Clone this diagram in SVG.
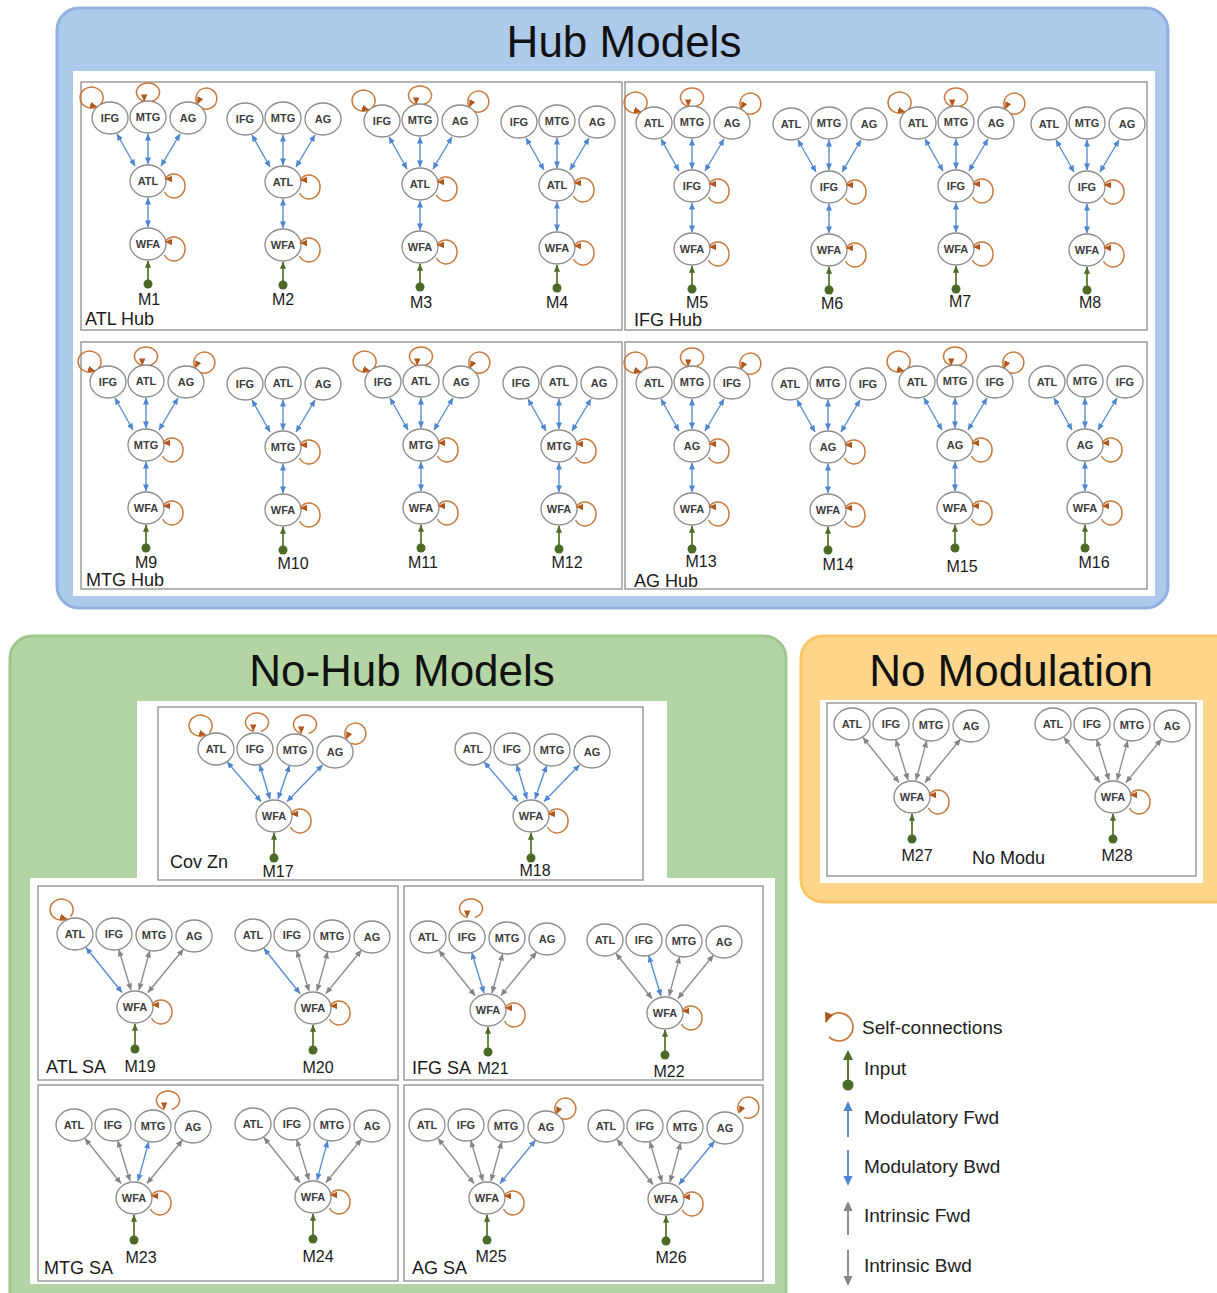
<svg xmlns="http://www.w3.org/2000/svg" xmlns:xlink="http://www.w3.org/1999/xlink" width="1217" height="1293" viewBox="0 0 1217 1293">
<defs>
<style>
.n{fill:#fff;stroke:#8c8c8c;stroke-width:1.3}
.t{font-family:"Liberation Sans",Arial,sans-serif;font-size:11px;font-weight:bold;fill:#3d3d3d;text-anchor:middle}
.b{stroke:#5b8fd2;stroke-width:1.4;marker-start:url(#ab);marker-end:url(#ab)}
.g{stroke:#8f8f8f;stroke-width:1.4;marker-start:url(#ag);marker-end:url(#ag)}
.in{stroke:#5a7a33;stroke-width:1.8;marker-end:url(#ai)}
.dot{fill:#4b6a27}
.lp{fill:none;stroke:#c97a3e;stroke-width:1.5}
.pn{fill:#fff;stroke:#9c9c9c;stroke-width:1.5}
.lb{font-family:"Liberation Sans",Arial,sans-serif;font-size:18px;fill:#1b1b1b}
.ml{font-family:"Liberation Sans",Arial,sans-serif;font-size:16px;fill:#1b1b1b;text-anchor:middle}
.ti{font-family:"Liberation Sans",Arial,sans-serif;font-size:44px;fill:#111;text-anchor:middle}
.lg{font-family:"Liberation Sans",Arial,sans-serif;font-size:19px;fill:#222}
</style>
<marker id="ab" viewBox="0 0 8 7" refX="7.6" refY="3.5" markerWidth="7" markerHeight="6" orient="auto-start-reverse" markerUnits="userSpaceOnUse"><path d="M0,0L8,3.5L0,7z" fill="#4f86cf"/></marker>
<marker id="ag" viewBox="0 0 8 7" refX="7.6" refY="3.5" markerWidth="7" markerHeight="6" orient="auto-start-reverse" markerUnits="userSpaceOnUse"><path d="M0,0L8,3.5L0,7z" fill="#858585"/></marker>
<marker id="ai" viewBox="0 0 8 7" refX="7.6" refY="3.5" markerWidth="7" markerHeight="7" orient="auto" markerUnits="userSpaceOnUse"><path d="M0,0L8,3.5L0,7z" fill="#4e6b2a"/></marker>
<marker id="aoL" viewBox="0 0 8 7" refX="7.6" refY="3.5" markerWidth="7.5" markerHeight="6.5" orient="180" markerUnits="userSpaceOnUse"><path d="M0,0L8,3.5L0,7z" fill="#b2561b"/></marker>
<marker id="aoD" viewBox="0 0 8 7" refX="7.6" refY="3.5" markerWidth="7.5" markerHeight="6.5" orient="90" markerUnits="userSpaceOnUse"><path d="M0,0L8,3.5L0,7z" fill="#b2561b"/></marker>
<marker id="aoR" viewBox="0 0 8 7" refX="7.6" refY="3.5" markerWidth="7.5" markerHeight="6.5" orient="15" markerUnits="userSpaceOnUse"><path d="M0,0L8,3.5L0,7z" fill="#b2561b"/></marker>
<marker id="aoDL" viewBox="0 0 8 7" refX="7.6" refY="3.5" markerWidth="7.5" markerHeight="6.5" orient="115" markerUnits="userSpaceOnUse"><path d="M0,0L8,3.5L0,7z" fill="#b2561b"/></marker>
<marker id="aoB" viewBox="0 0 8 7" refX="7.6" refY="3.5" markerWidth="10" markerHeight="9" orient="auto" markerUnits="userSpaceOnUse"><path d="M0,0L8,3.5L0,7z" fill="#b2561b"/></marker>
<path id="lR" class="lp" d="M16.5,11A11,12 0 1,0 17.1,-2" marker-end="url(#aoL)"/>
<path id="lTL" class="lp" d="M-9.6,-13.6A11.5,10.5 0 1,0 -13,-11.1" marker-end="url(#aoR)"/>
<path id="lT" class="lp" d="M3.76,-15.54A11.5,9.5 0 1,0 -3.76,-15.54" marker-end="url(#aoD)"/>
<path id="lTR" class="lp" d="M14.25,-9.73A10.5,10.5 0 1,0 9.34,-14" marker-end="url(#aoDL)"/>
<g id="hc">
<line class="b" x1="-31" y1="-47" x2="-13" y2="-15"/>
<line class="b" x1="0" y1="-47" x2="0" y2="-17"/>
<line class="b" x1="32" y1="-47" x2="13" y2="-15"/>
<line class="b" x1="0" y1="17" x2="0" y2="46"/>
<line class="in" x1="0" y1="99" x2="0" y2="80"/>
<circle class="dot" cy="103" r="4.5"/>
<use href="#lR"/>
<use href="#lR" y="63"/>
</g>
<g id="ht">
<use href="#lTL" x="-38" y="-63"/>
<use href="#lT" y="-64"/>
<use href="#lTR" x="40" y="-63"/>
</g>
<g id="inp">
<line class="in" x1="0" y1="38" x2="0" y2="17"/>
<circle class="dot" cy="42" r="4.5"/>
<use href="#lR"/>
</g>
</defs>

<g id="panels">
<rect x="57" y="8" width="1111" height="600" rx="22" fill="#aecaea" stroke="#8fb2e0" stroke-width="3"/>
<rect x="73" y="71" width="1082" height="525" fill="#fff"/>
<rect class="pn" x="81" y="82" width="541" height="248"/>
<rect class="pn" x="625" y="82" width="522" height="248"/>
<rect class="pn" x="81" y="342" width="541" height="247"/>
<rect class="pn" x="625" y="342" width="522" height="247"/>
<rect x="10" y="636" width="776" height="700" rx="22" fill="#b3d5a3" stroke="#9dc78b" stroke-width="3"/>
<polygon points="137,701 667,701 667,878 775,878 775,1284 30,1284 30,878 137,878" fill="#fff"/>
<rect class="pn" x="158" y="707" width="485" height="173"/>
<rect class="pn" x="38" y="886" width="360" height="194"/>
<rect class="pn" x="404" y="886" width="359" height="194"/>
<rect class="pn" x="38" y="1085" width="360" height="196"/>
<rect class="pn" x="404" y="1085" width="359" height="196"/>
<rect x="801" y="636" width="440" height="266" rx="22" fill="#fdd68c" stroke="#fbc665" stroke-width="3"/>
<rect x="820" y="700" width="383" height="183" fill="#fff"/>
<rect class="pn" x="827" y="703" width="369" height="173"/>
<text class="ti" x="624" y="57">Hub Models</text>
<text class="ti" x="402" y="686">No-Hub Models</text>
<text class="ti" x="1011" y="686">No Modulation</text>
<text class="lb" x="85" y="325">ATL Hub</text>
<text class="lb" x="634" y="326">IFG Hub</text>
<text class="lb" x="86" y="586">MTG Hub</text>
<text class="lb" x="634" y="587">AG Hub</text>
<text class="lb" x="170" y="868">Cov Zn</text>
<text class="lb" x="46" y="1073">ATL SA</text>
<text class="lb" x="412" y="1074">IFG SA</text>
<text class="lb" x="44" y="1274">MTG SA</text>
<text class="lb" x="412" y="1274">AG SA</text>
<text class="lb" x="972" y="864">No Modu</text>
</g>

<g id="nodes">
<g id="m1" transform="translate(148,181)">
<g id="m1-ifg" transform="translate(-38,-63)"><ellipse class="n" rx="18" ry="16"/><text class="t" y="4">IFG</text></g>
<g id="m1-mtg" transform="translate(0,-64)"><ellipse class="n" rx="18" ry="16"/><text class="t" y="4">MTG</text></g>
<g id="m1-ag" transform="translate(40,-63)"><ellipse class="n" rx="18" ry="16"/><text class="t" y="4">AG</text></g>
<g id="m1-atl"><ellipse class="n" rx="18" ry="16"/><text class="t" y="4">ATL</text></g>
<g id="m1-wfa" transform="translate(0,63)"><ellipse class="n" rx="18" ry="16"/><text class="t" y="4">WFA</text></g>
<text class="ml" x="1" y="124">M1</text>
</g>
<g id="m2" transform="translate(283,182)">
<g id="m2-ifg" transform="translate(-38,-63)"><ellipse class="n" rx="18" ry="16"/><text class="t" y="4">IFG</text></g>
<g id="m2-mtg" transform="translate(0,-64)"><ellipse class="n" rx="18" ry="16"/><text class="t" y="4">MTG</text></g>
<g id="m2-ag" transform="translate(40,-63)"><ellipse class="n" rx="18" ry="16"/><text class="t" y="4">AG</text></g>
<g id="m2-atl"><ellipse class="n" rx="18" ry="16"/><text class="t" y="4">ATL</text></g>
<g id="m2-wfa" transform="translate(0,63)"><ellipse class="n" rx="18" ry="16"/><text class="t" y="4">WFA</text></g>
<text class="ml" x="0" y="123">M2</text>
</g>
<g id="m3" transform="translate(420,184)">
<g id="m3-ifg" transform="translate(-38,-63)"><ellipse class="n" rx="18" ry="16"/><text class="t" y="4">IFG</text></g>
<g id="m3-mtg" transform="translate(0,-64)"><ellipse class="n" rx="18" ry="16"/><text class="t" y="4">MTG</text></g>
<g id="m3-ag" transform="translate(40,-63)"><ellipse class="n" rx="18" ry="16"/><text class="t" y="4">AG</text></g>
<g id="m3-atl"><ellipse class="n" rx="18" ry="16"/><text class="t" y="4">ATL</text></g>
<g id="m3-wfa" transform="translate(0,63)"><ellipse class="n" rx="18" ry="16"/><text class="t" y="4">WFA</text></g>
<text class="ml" x="1" y="124">M3</text>
</g>
<g id="m4" transform="translate(557,185)">
<g id="m4-ifg" transform="translate(-38,-63)"><ellipse class="n" rx="18" ry="16"/><text class="t" y="4">IFG</text></g>
<g id="m4-mtg" transform="translate(0,-64)"><ellipse class="n" rx="18" ry="16"/><text class="t" y="4">MTG</text></g>
<g id="m4-ag" transform="translate(40,-63)"><ellipse class="n" rx="18" ry="16"/><text class="t" y="4">AG</text></g>
<g id="m4-atl"><ellipse class="n" rx="18" ry="16"/><text class="t" y="4">ATL</text></g>
<g id="m4-wfa" transform="translate(0,63)"><ellipse class="n" rx="18" ry="16"/><text class="t" y="4">WFA</text></g>
<text class="ml" x="0" y="123">M4</text>
</g>
<g id="m5" transform="translate(692,186)">
<g id="m5-atl" transform="translate(-38,-63)"><ellipse class="n" rx="18" ry="16"/><text class="t" y="4">ATL</text></g>
<g id="m5-mtg" transform="translate(0,-64)"><ellipse class="n" rx="18" ry="16"/><text class="t" y="4">MTG</text></g>
<g id="m5-ag" transform="translate(40,-63)"><ellipse class="n" rx="18" ry="16"/><text class="t" y="4">AG</text></g>
<g id="m5-ifg"><ellipse class="n" rx="18" ry="16"/><text class="t" y="4">IFG</text></g>
<g id="m5-wfa" transform="translate(0,63)"><ellipse class="n" rx="18" ry="16"/><text class="t" y="4">WFA</text></g>
<text class="ml" x="5" y="122">M5</text>
</g>
<g id="m6" transform="translate(829,187)">
<g id="m6-atl" transform="translate(-38,-63)"><ellipse class="n" rx="18" ry="16"/><text class="t" y="4">ATL</text></g>
<g id="m6-mtg" transform="translate(0,-64)"><ellipse class="n" rx="18" ry="16"/><text class="t" y="4">MTG</text></g>
<g id="m6-ag" transform="translate(40,-63)"><ellipse class="n" rx="18" ry="16"/><text class="t" y="4">AG</text></g>
<g id="m6-ifg"><ellipse class="n" rx="18" ry="16"/><text class="t" y="4">IFG</text></g>
<g id="m6-wfa" transform="translate(0,63)"><ellipse class="n" rx="18" ry="16"/><text class="t" y="4">WFA</text></g>
<text class="ml" x="3" y="122">M6</text>
</g>
<g id="m7" transform="translate(956,186)">
<g id="m7-atl" transform="translate(-38,-63)"><ellipse class="n" rx="18" ry="16"/><text class="t" y="4">ATL</text></g>
<g id="m7-mtg" transform="translate(0,-64)"><ellipse class="n" rx="18" ry="16"/><text class="t" y="4">MTG</text></g>
<g id="m7-ag" transform="translate(40,-63)"><ellipse class="n" rx="18" ry="16"/><text class="t" y="4">AG</text></g>
<g id="m7-ifg"><ellipse class="n" rx="18" ry="16"/><text class="t" y="4">IFG</text></g>
<g id="m7-wfa" transform="translate(0,63)"><ellipse class="n" rx="18" ry="16"/><text class="t" y="4">WFA</text></g>
<text class="ml" x="4" y="121">M7</text>
</g>
<g id="m8" transform="translate(1087,187)">
<g id="m8-atl" transform="translate(-38,-63)"><ellipse class="n" rx="18" ry="16"/><text class="t" y="4">ATL</text></g>
<g id="m8-mtg" transform="translate(0,-64)"><ellipse class="n" rx="18" ry="16"/><text class="t" y="4">MTG</text></g>
<g id="m8-ag" transform="translate(40,-63)"><ellipse class="n" rx="18" ry="16"/><text class="t" y="4">AG</text></g>
<g id="m8-ifg"><ellipse class="n" rx="18" ry="16"/><text class="t" y="4">IFG</text></g>
<g id="m8-wfa" transform="translate(0,63)"><ellipse class="n" rx="18" ry="16"/><text class="t" y="4">WFA</text></g>
<text class="ml" x="3" y="121">M8</text>
</g>
<g id="m9" transform="translate(146,445)">
<g id="m9-ifg" transform="translate(-38,-63)"><ellipse class="n" rx="18" ry="16"/><text class="t" y="4">IFG</text></g>
<g id="m9-atl" transform="translate(0,-64)"><ellipse class="n" rx="18" ry="16"/><text class="t" y="4">ATL</text></g>
<g id="m9-ag" transform="translate(40,-63)"><ellipse class="n" rx="18" ry="16"/><text class="t" y="4">AG</text></g>
<g id="m9-mtg"><ellipse class="n" rx="18" ry="16"/><text class="t" y="4">MTG</text></g>
<g id="m9-wfa" transform="translate(0,63)"><ellipse class="n" rx="18" ry="16"/><text class="t" y="4">WFA</text></g>
<text class="ml" x="0" y="123">M9</text>
</g>
<g id="m10" transform="translate(283,447)">
<g id="m10-ifg" transform="translate(-38,-63)"><ellipse class="n" rx="18" ry="16"/><text class="t" y="4">IFG</text></g>
<g id="m10-atl" transform="translate(0,-64)"><ellipse class="n" rx="18" ry="16"/><text class="t" y="4">ATL</text></g>
<g id="m10-ag" transform="translate(40,-63)"><ellipse class="n" rx="18" ry="16"/><text class="t" y="4">AG</text></g>
<g id="m10-mtg"><ellipse class="n" rx="18" ry="16"/><text class="t" y="4">MTG</text></g>
<g id="m10-wfa" transform="translate(0,63)"><ellipse class="n" rx="18" ry="16"/><text class="t" y="4">WFA</text></g>
<text class="ml" x="10" y="122">M10</text>
</g>
<g id="m11" transform="translate(421,445)">
<g id="m11-ifg" transform="translate(-38,-63)"><ellipse class="n" rx="18" ry="16"/><text class="t" y="4">IFG</text></g>
<g id="m11-atl" transform="translate(0,-64)"><ellipse class="n" rx="18" ry="16"/><text class="t" y="4">ATL</text></g>
<g id="m11-ag" transform="translate(40,-63)"><ellipse class="n" rx="18" ry="16"/><text class="t" y="4">AG</text></g>
<g id="m11-mtg"><ellipse class="n" rx="18" ry="16"/><text class="t" y="4">MTG</text></g>
<g id="m11-wfa" transform="translate(0,63)"><ellipse class="n" rx="18" ry="16"/><text class="t" y="4">WFA</text></g>
<text class="ml" x="2" y="123">M11</text>
</g>
<g id="m12" transform="translate(559,446)">
<g id="m12-ifg" transform="translate(-38,-63)"><ellipse class="n" rx="18" ry="16"/><text class="t" y="4">IFG</text></g>
<g id="m12-atl" transform="translate(0,-64)"><ellipse class="n" rx="18" ry="16"/><text class="t" y="4">ATL</text></g>
<g id="m12-ag" transform="translate(40,-63)"><ellipse class="n" rx="18" ry="16"/><text class="t" y="4">AG</text></g>
<g id="m12-mtg"><ellipse class="n" rx="18" ry="16"/><text class="t" y="4">MTG</text></g>
<g id="m12-wfa" transform="translate(0,63)"><ellipse class="n" rx="18" ry="16"/><text class="t" y="4">WFA</text></g>
<text class="ml" x="8" y="122">M12</text>
</g>
<g id="m13" transform="translate(692,446)">
<g id="m13-atl" transform="translate(-38,-63)"><ellipse class="n" rx="18" ry="16"/><text class="t" y="4">ATL</text></g>
<g id="m13-mtg" transform="translate(0,-64)"><ellipse class="n" rx="18" ry="16"/><text class="t" y="4">MTG</text></g>
<g id="m13-ifg" transform="translate(40,-63)"><ellipse class="n" rx="18" ry="16"/><text class="t" y="4">IFG</text></g>
<g id="m13-ag"><ellipse class="n" rx="18" ry="16"/><text class="t" y="4">AG</text></g>
<g id="m13-wfa" transform="translate(0,63)"><ellipse class="n" rx="18" ry="16"/><text class="t" y="4">WFA</text></g>
<text class="ml" x="9" y="121">M13</text>
</g>
<g id="m14" transform="translate(828,447)">
<g id="m14-atl" transform="translate(-38,-63)"><ellipse class="n" rx="18" ry="16"/><text class="t" y="4">ATL</text></g>
<g id="m14-mtg" transform="translate(0,-64)"><ellipse class="n" rx="18" ry="16"/><text class="t" y="4">MTG</text></g>
<g id="m14-ifg" transform="translate(40,-63)"><ellipse class="n" rx="18" ry="16"/><text class="t" y="4">IFG</text></g>
<g id="m14-ag"><ellipse class="n" rx="18" ry="16"/><text class="t" y="4">AG</text></g>
<g id="m14-wfa" transform="translate(0,63)"><ellipse class="n" rx="18" ry="16"/><text class="t" y="4">WFA</text></g>
<text class="ml" x="10" y="123">M14</text>
</g>
<g id="m15" transform="translate(955,445)">
<g id="m15-atl" transform="translate(-38,-63)"><ellipse class="n" rx="18" ry="16"/><text class="t" y="4">ATL</text></g>
<g id="m15-mtg" transform="translate(0,-64)"><ellipse class="n" rx="18" ry="16"/><text class="t" y="4">MTG</text></g>
<g id="m15-ifg" transform="translate(40,-63)"><ellipse class="n" rx="18" ry="16"/><text class="t" y="4">IFG</text></g>
<g id="m15-ag"><ellipse class="n" rx="18" ry="16"/><text class="t" y="4">AG</text></g>
<g id="m15-wfa" transform="translate(0,63)"><ellipse class="n" rx="18" ry="16"/><text class="t" y="4">WFA</text></g>
<text class="ml" x="7" y="127">M15</text>
</g>
<g id="m16" transform="translate(1085,445)">
<g id="m16-atl" transform="translate(-38,-63)"><ellipse class="n" rx="18" ry="16"/><text class="t" y="4">ATL</text></g>
<g id="m16-mtg" transform="translate(0,-64)"><ellipse class="n" rx="18" ry="16"/><text class="t" y="4">MTG</text></g>
<g id="m16-ifg" transform="translate(40,-63)"><ellipse class="n" rx="18" ry="16"/><text class="t" y="4">IFG</text></g>
<g id="m16-ag"><ellipse class="n" rx="18" ry="16"/><text class="t" y="4">AG</text></g>
<g id="m16-wfa" transform="translate(0,63)"><ellipse class="n" rx="18" ry="16"/><text class="t" y="4">WFA</text></g>
<text class="ml" x="9" y="123">M16</text>
</g>

<g id="m17" transform="translate(274,816)">
<g id="m17-atl" transform="translate(-58,-67)"><ellipse class="n" rx="18" ry="16"/><text class="t" y="4">ATL</text></g>
<g id="m17-ifg" transform="translate(-19,-67)"><ellipse class="n" rx="18" ry="16"/><text class="t" y="4">IFG</text></g>
<g id="m17-mtg" transform="translate(21,-66)"><ellipse class="n" rx="18" ry="16"/><text class="t" y="4">MTG</text></g>
<g id="m17-ag" transform="translate(61,-64)"><ellipse class="n" rx="18" ry="16"/><text class="t" y="4">AG</text></g>
<g id="m17-wfa"><ellipse class="n" rx="18" ry="16"/><text class="t" y="4">WFA</text></g>
<text class="ml" x="4" y="61">M17</text>
</g>
<g id="m18" transform="translate(531,816)">
<g id="m18-atl" transform="translate(-58,-67)"><ellipse class="n" rx="18" ry="16"/><text class="t" y="4">ATL</text></g>
<g id="m18-ifg" transform="translate(-19,-67)"><ellipse class="n" rx="18" ry="16"/><text class="t" y="4">IFG</text></g>
<g id="m18-mtg" transform="translate(21,-66)"><ellipse class="n" rx="18" ry="16"/><text class="t" y="4">MTG</text></g>
<g id="m18-ag" transform="translate(61,-64)"><ellipse class="n" rx="18" ry="16"/><text class="t" y="4">AG</text></g>
<g id="m18-wfa"><ellipse class="n" rx="18" ry="16"/><text class="t" y="4">WFA</text></g>
<text class="ml" x="4" y="60">M18</text>
</g>
<g id="m19" transform="translate(135,1007)">
<g id="m19-atl" transform="translate(-60,-73)"><ellipse class="n" rx="18" ry="16"/><text class="t" y="4">ATL</text></g>
<g id="m19-ifg" transform="translate(-21,-73)"><ellipse class="n" rx="18" ry="16"/><text class="t" y="4">IFG</text></g>
<g id="m19-mtg" transform="translate(19,-72)"><ellipse class="n" rx="18" ry="16"/><text class="t" y="4">MTG</text></g>
<g id="m19-ag" transform="translate(59,-71)"><ellipse class="n" rx="18" ry="16"/><text class="t" y="4">AG</text></g>
<g id="m19-wfa"><ellipse class="n" rx="18" ry="16"/><text class="t" y="4">WFA</text></g>
<text class="ml" x="5" y="65">M19</text>
</g>
<g id="m20" transform="translate(313,1008)">
<g id="m20-atl" transform="translate(-60,-73)"><ellipse class="n" rx="18" ry="16"/><text class="t" y="4">ATL</text></g>
<g id="m20-ifg" transform="translate(-21,-73)"><ellipse class="n" rx="18" ry="16"/><text class="t" y="4">IFG</text></g>
<g id="m20-mtg" transform="translate(19,-72)"><ellipse class="n" rx="18" ry="16"/><text class="t" y="4">MTG</text></g>
<g id="m20-ag" transform="translate(59,-71)"><ellipse class="n" rx="18" ry="16"/><text class="t" y="4">AG</text></g>
<g id="m20-wfa"><ellipse class="n" rx="18" ry="16"/><text class="t" y="4">WFA</text></g>
<text class="ml" x="5" y="65">M20</text>
</g>
<g id="m21" transform="translate(488,1010)">
<g id="m21-atl" transform="translate(-60,-73)"><ellipse class="n" rx="18" ry="16"/><text class="t" y="4">ATL</text></g>
<g id="m21-ifg" transform="translate(-21,-73)"><ellipse class="n" rx="18" ry="16"/><text class="t" y="4">IFG</text></g>
<g id="m21-mtg" transform="translate(19,-72)"><ellipse class="n" rx="18" ry="16"/><text class="t" y="4">MTG</text></g>
<g id="m21-ag" transform="translate(59,-71)"><ellipse class="n" rx="18" ry="16"/><text class="t" y="4">AG</text></g>
<g id="m21-wfa"><ellipse class="n" rx="18" ry="16"/><text class="t" y="4">WFA</text></g>
<text class="ml" x="5" y="64">M21</text>
</g>
<g id="m22" transform="translate(665,1013)">
<g id="m22-atl" transform="translate(-60,-73)"><ellipse class="n" rx="18" ry="16"/><text class="t" y="4">ATL</text></g>
<g id="m22-ifg" transform="translate(-21,-73)"><ellipse class="n" rx="18" ry="16"/><text class="t" y="4">IFG</text></g>
<g id="m22-mtg" transform="translate(19,-72)"><ellipse class="n" rx="18" ry="16"/><text class="t" y="4">MTG</text></g>
<g id="m22-ag" transform="translate(59,-71)"><ellipse class="n" rx="18" ry="16"/><text class="t" y="4">AG</text></g>
<g id="m22-wfa"><ellipse class="n" rx="18" ry="16"/><text class="t" y="4">WFA</text></g>
<text class="ml" x="4" y="64">M22</text>
</g>
<g id="m23" transform="translate(134,1198)">
<g id="m23-atl" transform="translate(-60,-73)"><ellipse class="n" rx="18" ry="16"/><text class="t" y="4">ATL</text></g>
<g id="m23-ifg" transform="translate(-21,-73)"><ellipse class="n" rx="18" ry="16"/><text class="t" y="4">IFG</text></g>
<g id="m23-mtg" transform="translate(19,-72)"><ellipse class="n" rx="18" ry="16"/><text class="t" y="4">MTG</text></g>
<g id="m23-ag" transform="translate(59,-71)"><ellipse class="n" rx="18" ry="16"/><text class="t" y="4">AG</text></g>
<g id="m23-wfa"><ellipse class="n" rx="18" ry="16"/><text class="t" y="4">WFA</text></g>
<text class="ml" x="7" y="65">M23</text>
</g>
<g id="m24" transform="translate(313,1197)">
<g id="m24-atl" transform="translate(-60,-73)"><ellipse class="n" rx="18" ry="16"/><text class="t" y="4">ATL</text></g>
<g id="m24-ifg" transform="translate(-21,-73)"><ellipse class="n" rx="18" ry="16"/><text class="t" y="4">IFG</text></g>
<g id="m24-mtg" transform="translate(19,-72)"><ellipse class="n" rx="18" ry="16"/><text class="t" y="4">MTG</text></g>
<g id="m24-ag" transform="translate(59,-71)"><ellipse class="n" rx="18" ry="16"/><text class="t" y="4">AG</text></g>
<g id="m24-wfa"><ellipse class="n" rx="18" ry="16"/><text class="t" y="4">WFA</text></g>
<text class="ml" x="5" y="65">M24</text>
</g>
<g id="m25" transform="translate(487,1198)">
<g id="m25-atl" transform="translate(-60,-73)"><ellipse class="n" rx="18" ry="16"/><text class="t" y="4">ATL</text></g>
<g id="m25-ifg" transform="translate(-21,-73)"><ellipse class="n" rx="18" ry="16"/><text class="t" y="4">IFG</text></g>
<g id="m25-mtg" transform="translate(19,-72)"><ellipse class="n" rx="18" ry="16"/><text class="t" y="4">MTG</text></g>
<g id="m25-ag" transform="translate(59,-71)"><ellipse class="n" rx="18" ry="16"/><text class="t" y="4">AG</text></g>
<g id="m25-wfa"><ellipse class="n" rx="18" ry="16"/><text class="t" y="4">WFA</text></g>
<text class="ml" x="4" y="64">M25</text>
</g>
<g id="m26" transform="translate(666,1199)">
<g id="m26-atl" transform="translate(-60,-73)"><ellipse class="n" rx="18" ry="16"/><text class="t" y="4">ATL</text></g>
<g id="m26-ifg" transform="translate(-21,-73)"><ellipse class="n" rx="18" ry="16"/><text class="t" y="4">IFG</text></g>
<g id="m26-mtg" transform="translate(19,-72)"><ellipse class="n" rx="18" ry="16"/><text class="t" y="4">MTG</text></g>
<g id="m26-ag" transform="translate(59,-71)"><ellipse class="n" rx="18" ry="16"/><text class="t" y="4">AG</text></g>
<g id="m26-wfa"><ellipse class="n" rx="18" ry="16"/><text class="t" y="4">WFA</text></g>
<text class="ml" x="5" y="64">M26</text>
</g>
<g id="m27" transform="translate(912,797)">
<g id="m27-atl" transform="translate(-60,-73)"><ellipse class="n" rx="18" ry="16"/><text class="t" y="4">ATL</text></g>
<g id="m27-ifg" transform="translate(-21,-73)"><ellipse class="n" rx="18" ry="16"/><text class="t" y="4">IFG</text></g>
<g id="m27-mtg" transform="translate(19,-72)"><ellipse class="n" rx="18" ry="16"/><text class="t" y="4">MTG</text></g>
<g id="m27-ag" transform="translate(59,-71)"><ellipse class="n" rx="18" ry="16"/><text class="t" y="4">AG</text></g>
<g id="m27-wfa"><ellipse class="n" rx="18" ry="16"/><text class="t" y="4">WFA</text></g>
<text class="ml" x="5" y="64">M27</text>
</g>
<g id="m28" transform="translate(1113,797)">
<g id="m28-atl" transform="translate(-60,-73)"><ellipse class="n" rx="18" ry="16"/><text class="t" y="4">ATL</text></g>
<g id="m28-ifg" transform="translate(-21,-73)"><ellipse class="n" rx="18" ry="16"/><text class="t" y="4">IFG</text></g>
<g id="m28-mtg" transform="translate(19,-72)"><ellipse class="n" rx="18" ry="16"/><text class="t" y="4">MTG</text></g>
<g id="m28-ag" transform="translate(59,-71)"><ellipse class="n" rx="18" ry="16"/><text class="t" y="4">AG</text></g>
<g id="m28-wfa"><ellipse class="n" rx="18" ry="16"/><text class="t" y="4">WFA</text></g>
<text class="ml" x="4" y="64">M28</text>
</g>
</g>

<g id="connectors">
<g transform="translate(148,181)"><use href="#hc"/><use href="#ht"/></g>
<g transform="translate(283,182)"><use href="#hc"/></g>
<g transform="translate(420,184)"><use href="#hc"/><use href="#ht"/></g>
<g transform="translate(557,185)"><use href="#hc"/></g>
<g transform="translate(692,186)"><use href="#hc"/><use href="#ht"/></g>
<g transform="translate(829,187)"><use href="#hc"/></g>
<g transform="translate(956,186)"><use href="#hc"/><use href="#ht"/></g>
<g transform="translate(1087,187)"><use href="#hc"/></g>
<g transform="translate(146,445)"><use href="#hc"/><use href="#ht"/></g>
<g transform="translate(283,447)"><use href="#hc"/></g>
<g transform="translate(421,445)"><use href="#hc"/><use href="#ht"/></g>
<g transform="translate(559,446)"><use href="#hc"/></g>
<g transform="translate(692,446)"><use href="#hc"/><use href="#ht"/></g>
<g transform="translate(828,447)"><use href="#hc"/></g>
<g transform="translate(955,445)"><use href="#hc"/><use href="#ht"/></g>
<g transform="translate(1085,445)"><use href="#hc"/></g>

<g transform="translate(274,816)">
<line class="b" x1="-46.9" y1="-54.1" x2="-13" y2="-14.5"/>
<line class="b" x1="-14.3" y1="-51.2" x2="-4" y2="-17"/>
<line class="b" x1="15.6" y1="-50.4" x2="4" y2="-17"/>
<line class="b" x1="48.5" y1="-51.1" x2="13" y2="-14.5"/>
<use href="#inp"/>
<use href="#lTL" x="-55" y="-70"/>
<use href="#lT" x="-17" y="-69"/>
<use href="#lT" x="31" y="-67"/>
<use href="#lTR" x="63" y="-63"/>
</g>
<g transform="translate(531,816)">
<line class="b" x1="-46.9" y1="-54.1" x2="-13" y2="-14.5"/>
<line class="b" x1="-14.3" y1="-51.2" x2="-4" y2="-17"/>
<line class="b" x1="15.6" y1="-50.4" x2="4" y2="-17"/>
<line class="b" x1="48.5" y1="-51.1" x2="13" y2="-14.5"/>
<use href="#inp"/>
</g>
<g transform="translate(135,1007)">
<line class="b" x1="-49" y1="-59.5" x2="-13" y2="-14.5"/>
<line class="g" x1="-16.2" y1="-57.2" x2="-4" y2="-17"/>
<line class="g" x1="14.7" y1="-56.1" x2="4" y2="-17"/>
<line class="g" x1="48.4" y1="-57.8" x2="13" y2="-14.5"/>
<use href="#inp"/>
<use href="#lTL" x="-55" y="-77"/>
</g>
<g transform="translate(313,1008)">
<line class="b" x1="-49" y1="-59.5" x2="-13" y2="-14.5"/>
<line class="g" x1="-16.2" y1="-57.2" x2="-4" y2="-17"/>
<line class="g" x1="14.7" y1="-56.1" x2="4" y2="-17"/>
<line class="g" x1="48.4" y1="-57.8" x2="13" y2="-14.5"/>
<use href="#inp"/>
</g>
<g transform="translate(488,1010)">
<line class="g" x1="-49" y1="-59.5" x2="-13" y2="-14.5"/>
<line class="b" x1="-16.2" y1="-57.2" x2="-4" y2="-17"/>
<line class="g" x1="14.7" y1="-56.1" x2="4" y2="-17"/>
<line class="g" x1="48.4" y1="-57.8" x2="13" y2="-14.5"/>
<use href="#inp"/>
<use href="#lT" x="-17" y="-77"/>
</g>
<g transform="translate(665,1013)">
<line class="g" x1="-49" y1="-59.5" x2="-13" y2="-14.5"/>
<line class="b" x1="-16.2" y1="-57.2" x2="-4" y2="-17"/>
<line class="g" x1="14.7" y1="-56.1" x2="4" y2="-17"/>
<line class="g" x1="48.4" y1="-57.8" x2="13" y2="-14.5"/>
<use href="#inp"/>
</g>
<g transform="translate(134,1198)">
<line class="g" x1="-49" y1="-59.5" x2="-13" y2="-14.5"/>
<line class="g" x1="-16.2" y1="-57.2" x2="-4" y2="-17"/>
<line class="b" x1="14.7" y1="-56.1" x2="4" y2="-17"/>
<line class="g" x1="48.4" y1="-57.8" x2="13" y2="-14.5"/>
<use href="#inp"/>
<use href="#lT" x="34" y="-73"/>
</g>
<g transform="translate(313,1197)">
<line class="g" x1="-49" y1="-59.5" x2="-13" y2="-14.5"/>
<line class="g" x1="-16.2" y1="-57.2" x2="-4" y2="-17"/>
<line class="b" x1="14.7" y1="-56.1" x2="4" y2="-17"/>
<line class="g" x1="48.4" y1="-57.8" x2="13" y2="-14.5"/>
<use href="#inp"/>
</g>
<g transform="translate(487,1198)">
<line class="g" x1="-49" y1="-59.5" x2="-13" y2="-14.5"/>
<line class="g" x1="-16.2" y1="-57.2" x2="-4" y2="-17"/>
<line class="g" x1="14.7" y1="-56.1" x2="4" y2="-17"/>
<line class="b" x1="48.4" y1="-57.8" x2="13" y2="-14.5"/>
<use href="#inp"/>
<use href="#lTR" x="60" y="-70"/>
</g>
<g transform="translate(666,1199)">
<line class="g" x1="-49" y1="-59.5" x2="-13" y2="-14.5"/>
<line class="g" x1="-16.2" y1="-57.2" x2="-4" y2="-17"/>
<line class="g" x1="14.7" y1="-56.1" x2="4" y2="-17"/>
<line class="b" x1="48.4" y1="-57.8" x2="13" y2="-14.5"/>
<use href="#inp"/>
<use href="#lTR" x="64" y="-72"/>
</g>
<g transform="translate(912,797)">
<line class="g" x1="-49" y1="-59.5" x2="-13" y2="-14.5"/>
<line class="g" x1="-16.2" y1="-57.2" x2="-4" y2="-17"/>
<line class="g" x1="14.7" y1="-56.1" x2="4" y2="-17"/>
<line class="g" x1="48.4" y1="-57.8" x2="13" y2="-14.5"/>
<use href="#inp"/>
</g>
<g transform="translate(1113,797)">
<line class="g" x1="-49" y1="-59.5" x2="-13" y2="-14.5"/>
<line class="g" x1="-16.2" y1="-57.2" x2="-4" y2="-17"/>
<line class="g" x1="14.7" y1="-56.1" x2="4" y2="-17"/>
<line class="g" x1="48.4" y1="-57.8" x2="13" y2="-14.5"/>
<use href="#inp"/>
</g>
</g>

<g id="legend">
<path d="M829.1,1036.9A14,14 0 1,0 825.8,1022.2" fill="none" stroke="#c97a3e" stroke-width="1.8" marker-end="url(#aoB)"/>
<text class="lg" x="862" y="1034">Self-connections</text>
<line x1="848" y1="1082" x2="848" y2="1059" stroke="#5a7a33" stroke-width="2"/>
<polygon points="848,1050 843,1060 853,1060" fill="#4e6b2a"/>
<circle cx="848" cy="1085" r="5.5" fill="#4b6a27"/>
<text class="lg" x="864" y="1075">Input</text>
<line x1="848" y1="1137" x2="848" y2="1110" stroke="#5b8fd2" stroke-width="2"/>
<polygon points="848,1101 843.5,1111 852.5,1111" fill="#4f86cf"/>
<text class="lg" x="864" y="1124">Modulatory Fwd</text>
<line x1="848" y1="1150" x2="848" y2="1177" stroke="#5b8fd2" stroke-width="2"/>
<polygon points="848,1186 843.5,1176 852.5,1176" fill="#4f86cf"/>
<text class="lg" x="864" y="1173">Modulatory Bwd</text>
<line x1="848" y1="1235" x2="848" y2="1210" stroke="#8f8f8f" stroke-width="2"/>
<polygon points="848,1201 843.5,1211 852.5,1211" fill="#858585"/>
<text class="lg" x="864" y="1222">Intrinsic Fwd</text>
<line x1="848" y1="1250" x2="848" y2="1277" stroke="#8f8f8f" stroke-width="2"/>
<polygon points="848,1286 843.5,1276 852.5,1276" fill="#858585"/>
<text class="lg" x="864" y="1272">Intrinsic Bwd</text>
</g>
</svg>
